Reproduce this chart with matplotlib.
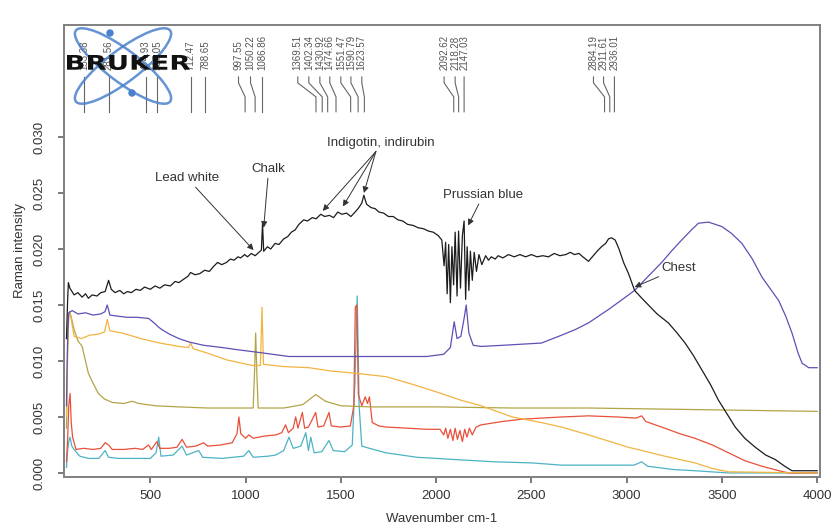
import numpy as np
import matplotlib
matplotlib.use("Agg")
import matplotlib.pyplot as plt
import matplotlib.transforms as mtransforms
from matplotlib.patches import Ellipse, Circle, PathPatch
from matplotlib.textpath import TextPath
from matplotlib.font_manager import FontProperties

plt.rcParams['font.family'] = ['Liberation Sans', 'DejaVu Sans']

# spectra: (wavenumber cm-1, Raman intensity)
black = [(60, 0.0120), (66, 0.0154), (70, 0.0170), (78, 0.0165), (100, 0.0159), (120, 0.0161),
         (142, 0.0157), (160, 0.0160), (175, 0.0156), (195, 0.0159), (220, 0.0158), (240, 0.0161),
         (263, 0.0162), (281, 0.0172), (295, 0.0164), (315, 0.0161), (340, 0.0163), (360, 0.0160),
         (380, 0.0162), (400, 0.0161), (425, 0.0164), (447, 0.0163), (470, 0.0166), (500, 0.0164),
         (525, 0.0167), (550, 0.0165), (575, 0.0168), (605, 0.0167), (630, 0.0171), (650, 0.0170),
         (675, 0.0173), (700, 0.0176), (711, 0.0179), (735, 0.0177), (760, 0.0178), (785, 0.0181),
         (810, 0.0180), (830, 0.0184), (853, 0.0188), (875, 0.0186), (900, 0.0188), (920, 0.0191),
         (940, 0.0190), (960, 0.0193), (974, 0.0192), (995, 0.0195), (1010, 0.0193), (1030, 0.0196),
         (1050, 0.0194), (1070, 0.0197), (1083, 0.0199), (1089, 0.0223), (1095, 0.0198), (1115, 0.0202),
         (1132, 0.0200), (1155, 0.0205), (1175, 0.0204), (1200, 0.0209), (1221, 0.0211), (1240, 0.0215),
         (1260, 0.0217), (1280, 0.0222), (1305, 0.0226), (1325, 0.0225), (1350, 0.0228), (1370, 0.0227),
         (1395, 0.0231), (1415, 0.0229), (1440, 0.0230), (1462, 0.0228), (1484, 0.0233), (1505, 0.0231),
         (1530, 0.0232), (1553, 0.0229), (1575, 0.0233), (1595, 0.0237), (1610, 0.0241), (1621, 0.0248),
         (1635, 0.0240), (1658, 0.0237), (1680, 0.0236), (1700, 0.0233), (1725, 0.0232), (1750, 0.0229),
         (1775, 0.0229), (1800, 0.0226), (1825, 0.0225), (1850, 0.0222), (1880, 0.0221), (1905, 0.0219),
         (1935, 0.0218), (1960, 0.0216), (1985, 0.0215), (2011, 0.0212), (2030, 0.0208), (2042, 0.0185),
         (2050, 0.0206), (2058, 0.0160), (2066, 0.0204), (2075, 0.0152), (2083, 0.0202), (2092, 0.0168),
         (2100, 0.0215), (2110, 0.0158), (2118, 0.0216), (2128, 0.0165), (2138, 0.0212), (2147, 0.0225),
         (2155, 0.0155), (2163, 0.0202), (2172, 0.0163), (2180, 0.0198), (2190, 0.0172), (2200, 0.0197),
         (2212, 0.0180), (2225, 0.0195), (2240, 0.0186), (2260, 0.0194), (2275, 0.0190), (2290, 0.0193),
         (2310, 0.0191), (2326, 0.0194), (2350, 0.0192), (2380, 0.0195), (2410, 0.0193), (2440, 0.0195),
         (2470, 0.0193), (2500, 0.0195), (2530, 0.0193), (2560, 0.0194), (2590, 0.0193), (2620, 0.0196),
         (2650, 0.0194), (2680, 0.0195), (2705, 0.0197), (2726, 0.0195), (2750, 0.0196), (2770, 0.0193),
         (2800, 0.0189), (2820, 0.0193), (2845, 0.0198), (2868, 0.0202), (2890, 0.0205), (2905, 0.0209),
         (2921, 0.0210), (2940, 0.0208), (2960, 0.0200), (2984, 0.0188), (3010, 0.0178), (3042, 0.0163),
         (3080, 0.0156), (3114, 0.0150), (3160, 0.0142), (3219, 0.0134), (3260, 0.0126), (3307, 0.0116),
         (3350, 0.0105), (3395, 0.0092), (3440, 0.0079), (3482, 0.0065), (3530, 0.0052), (3570, 0.0041),
         (3620, 0.0031), (3675, 0.0023), (3730, 0.0016), (3780, 0.0012), (3830, 0.0006), (3868, 0.0002),
         (3920, 0.0002), (4000, 0.0002)]

purple = [(60, 0.0060), (66, 0.0120), (72, 0.0143), (90, 0.0145), (120, 0.0142), (160, 0.0143),
          (200, 0.0141), (240, 0.0142), (262, 0.0144), (274, 0.0150), (288, 0.0141), (330, 0.0140),
          (380, 0.0139), (430, 0.0139), (491, 0.0138), (520, 0.0134), (545, 0.0130), (561, 0.0128),
          (600, 0.0124), (650, 0.0120), (702, 0.0117), (780, 0.0114), (877, 0.0112), (960, 0.0110),
          (1053, 0.0108), (1140, 0.0106), (1228, 0.0104), (1350, 0.0104), (1500, 0.0104), (1650, 0.0104),
          (1800, 0.0104), (1950, 0.0104), (2040, 0.0106), (2075, 0.0112), (2095, 0.0135), (2110, 0.0120),
          (2130, 0.0122), (2147, 0.0138), (2158, 0.0150), (2172, 0.0125), (2195, 0.0114), (2237, 0.0113),
          (2350, 0.0114), (2450, 0.0115), (2553, 0.0116), (2658, 0.0123), (2730, 0.0128), (2800, 0.0134),
          (2905, 0.0146), (2970, 0.0154), (3042, 0.0163), (3110, 0.0175), (3184, 0.0188), (3240, 0.0199),
          (3289, 0.0208), (3340, 0.0217), (3377, 0.0223), (3430, 0.0224), (3500, 0.0220), (3550, 0.0214),
          (3605, 0.0205), (3660, 0.0191), (3710, 0.0175), (3760, 0.0163), (3798, 0.0154), (3835, 0.0140),
          (3868, 0.0125), (3900, 0.0107), (3921, 0.0098), (3956, 0.0094), (4000, 0.0094)]

orange = [(60, 0.0050), (66, 0.0110), (72, 0.0140), (80, 0.0142), (100, 0.0122), (140, 0.0120),
          (180, 0.0123), (230, 0.0124), (260, 0.0126), (274, 0.0137), (288, 0.0127), (352, 0.0125),
          (450, 0.0120), (550, 0.0116), (650, 0.0113), (700, 0.0112), (712, 0.0116), (725, 0.0111),
          (800, 0.0107), (900, 0.0101), (1035, 0.0096), (1078, 0.0096), (1086, 0.0148), (1094, 0.0097),
          (1200, 0.0095), (1333, 0.0094), (1450, 0.0091), (1580, 0.0089), (1737, 0.0086), (1880, 0.0079),
          (2026, 0.0071), (2130, 0.0065), (2237, 0.0060), (2400, 0.0050), (2553, 0.0045), (2658, 0.0041),
          (2800, 0.0034), (3009, 0.0023), (3200, 0.0015), (3358, 0.0009), (3450, 0.0004), (3535, 0.0001),
          (4000, 0.0000)]

olive = [(60, 0.0040), (66, 0.0110), (70, 0.0140), (76, 0.0144), (84, 0.0140), (100, 0.0128),
         (120, 0.0118), (142, 0.0113), (175, 0.0089), (200, 0.0080), (227, 0.0071), (260, 0.0066),
         (300, 0.0063), (360, 0.0062), (405, 0.0064), (440, 0.0062), (526, 0.0060), (650, 0.0059),
         (800, 0.0058), (950, 0.0058), (1040, 0.0058), (1047, 0.0090), (1053, 0.0125), (1059, 0.0090),
         (1066, 0.0058), (1200, 0.0058), (1300, 0.0061), (1368, 0.0070), (1420, 0.0064), (1500, 0.0060),
         (1650, 0.0059), (1737, 0.0059), (2000, 0.0059), (2400, 0.0058), (2800, 0.0058), (3200, 0.0057),
         (3600, 0.0056), (4000, 0.0055)]

red = [(60, 0.0010), (66, 0.0030), (72, 0.0060), (79, 0.0071), (85, 0.0045), (92, 0.0032), (110, 0.0021),
       (150, 0.0022), (200, 0.0021), (240, 0.0022), (263, 0.0027), (281, 0.0025), (300, 0.0021),
       (360, 0.0021), (420, 0.0022), (460, 0.0021), (491, 0.0025), (505, 0.0021), (535, 0.0028),
       (550, 0.0022), (600, 0.0022), (640, 0.0023), (667, 0.0030), (690, 0.0023), (740, 0.0024),
       (780, 0.0027), (800, 0.0024), (870, 0.0025), (930, 0.0027), (955, 0.0035), (965, 0.0050),
       (975, 0.0035), (1000, 0.0031), (1017, 0.0034), (1040, 0.0031), (1100, 0.0033), (1160, 0.0034),
       (1190, 0.0036), (1210, 0.0043), (1225, 0.0036), (1250, 0.0040), (1263, 0.0050), (1275, 0.0040),
       (1298, 0.0054), (1310, 0.0040), (1330, 0.0041), (1368, 0.0054), (1380, 0.0041), (1410, 0.0042),
       (1438, 0.0054), (1450, 0.0042), (1500, 0.0041), (1550, 0.0042), (1568, 0.0060), (1576, 0.0148),
       (1584, 0.0150), (1592, 0.0070), (1610, 0.0060), (1628, 0.0068), (1640, 0.0062), (1650, 0.0068),
       (1665, 0.0045), (1700, 0.0042), (1737, 0.0041), (1850, 0.0040), (1950, 0.0039), (2020, 0.0039),
       (2040, 0.0034), (2050, 0.0040), (2062, 0.0031), (2075, 0.0039), (2088, 0.0029), (2100, 0.0040),
       (2112, 0.0030), (2125, 0.0038), (2138, 0.0028), (2150, 0.0039), (2162, 0.0032), (2175, 0.0040),
       (2190, 0.0034), (2210, 0.0041), (2237, 0.0043), (2350, 0.0046), (2450, 0.0048), (2553, 0.0049),
       (2658, 0.0050), (2800, 0.0051), (2950, 0.0050), (3050, 0.0049), (3079, 0.0051), (3100, 0.0046),
       (3200, 0.0040), (3280, 0.0035), (3358, 0.0031), (3450, 0.0025), (3535, 0.0018), (3620, 0.0011),
       (3710, 0.0006), (3800, 0.0002), (3850, 0.0000), (4000, 0.0000)]

teal = [(60, 0.0005), (66, 0.0020), (72, 0.0028), (79, 0.0032), (88, 0.0024), (100, 0.0021),
        (130, 0.0015), (175, 0.0013), (230, 0.0013), (263, 0.0020), (281, 0.0014), (330, 0.0013),
        (420, 0.0013), (500, 0.0013), (530, 0.0018), (544, 0.0032), (556, 0.0015), (620, 0.0016),
        (667, 0.0024), (690, 0.0016), (754, 0.0020), (775, 0.0014), (877, 0.0013), (990, 0.0015),
        (1017, 0.0020), (1040, 0.0014), (1120, 0.0015), (1158, 0.0016), (1200, 0.0020), (1228, 0.0032),
        (1250, 0.0022), (1290, 0.0024), (1316, 0.0036), (1330, 0.0020), (1342, 0.0032), (1360, 0.0018),
        (1400, 0.0019), (1438, 0.0029), (1460, 0.0020), (1520, 0.0019), (1560, 0.0025), (1574, 0.0080),
        (1586, 0.0158), (1596, 0.0060), (1610, 0.0024), (1650, 0.0022), (1737, 0.0018), (1900, 0.0014),
        (2100, 0.0012), (2300, 0.0010), (2500, 0.0009), (2658, 0.0007), (2900, 0.0007), (3040, 0.0007),
        (3079, 0.0010), (3110, 0.0006), (3250, 0.0003), (3358, 0.0002), (3535, 0.0000), (4000, 0.0000)]

# peak labels along the top
peak_wn = [153.38, 281.56, 474.93, 537.05, 712.47, 788.65, 997.55, 1050.22, 1086.86,
           1369.51, 1402.34, 1430.92, 1474.66, 1551.47, 1590.79, 1623.57,
           2092.62, 2118.28, 2147.03, 2884.19, 2911.61, 2936.01]
label_wn = [153.38, 281.56, 474.93, 537.05, 712.47, 788.65, 963, 1026, 1086.86,
            1274, 1332, 1390, 1442, 1500, 1553, 1610,
            2042, 2100, 2147, 2826, 2879, 2936]

series = [(teal, "#4db3c4"), (red, "#e8503a"), (olive, "#b2a546"),
          (orange, "#f2b441"), (purple, "#5e50b5"), (black, "#1c1c1c")]

fig = plt.figure(figsize=(8.39, 5.27), dpi=100)
ax = fig.add_axes([64 / 839, 50 / 527, 756 / 839, 452 / 527])

for data, col in series:
    wn, inten = np.array(data).T
    ax.plot(wn, inten, color=col, lw=0.9)

ax.set_xlim(47, 4015)
ax.set_ylim(-0.00036, 0.0400)
ax.set_xticks(np.arange(500, 4001, 500))
ax.set_yticks(np.arange(0, 0.0301, 0.005))
ax.set_yticklabels([f"{v:.3f}" for v in np.arange(0, 0.0301, 0.005)],
                   rotation=90, va="center", ha="right")
ax.tick_params(axis="both", colors="#555555", labelcolor="#333333", length=4.5, width=1.1,
               labelsize=9.5)
ax.tick_params(axis="y", pad=9)
ax.tick_params(axis="x", pad=5)
for sp in ax.spines.values():
    sp.set_color("#808080")
    sp.set_linewidth(1.4)
ax.set_xlabel("Wavenumber cm-1", fontsize=9.5, color="#333333", labelpad=8)
ax.set_ylabel("Raman intensity", fontsize=9.5, color="#333333", labelpad=5)

# peak position labels with connectors
trans = mtransforms.blended_transform_factory(ax.transData, ax.transAxes)
for pk, lx in zip(peak_wn, label_wn):
    ax.text(lx, 0.900, f"{pk:.2f}", rotation=90, ha="center", va="bottom",
            fontsize=7, color="#555555", transform=trans)
    ax.plot([lx, lx, pk, pk], [0.885, 0.872, 0.841, 0.808], color="#666666",
            lw=0.8, transform=trans)

# annotations
arr = dict(arrowstyle="-|>", color="#333333", lw=0.7, mutation_scale=9, shrinkA=0, shrinkB=0)
txt = dict(fontsize=9.5, color="#333333", ha="center", va="center")
ax.annotate("Lead white", xy=(1042, 0.0199), xytext=(695, 0.0263), arrowprops=arr, **txt)
ax.annotate("Chalk", xy=(1095, 0.0219), xytext=(1121, 0.0271), arrowprops=arr, **txt)
ax.text(1711, 0.0295, "Indigotin, indirubin", **txt)
for tip in [(1405, 0.0234), (1511, 0.0238), (1621, 0.0250)]:
    ax.annotate("", xy=tip, xytext=(1684, 0.0287), arrowprops=arr)
ax.annotate("Prussian blue", xy=(2168, 0.0221), xytext=(2247, 0.0248), arrowprops=arr, **txt)
ax.annotate("Chest", xy=(3042, 0.0166), xytext=(3274, 0.0183), arrowprops=arr, **txt)

# Bruker logo (pixel coordinates)
for ang in (37, -37):
    fig.add_artist(Ellipse((123, 527 - 66), 118, 32, angle=ang, fill=False,
                           edgecolor="#4a80cc", lw=1.8, alpha=0.85,
                           transform=mtransforms.IdentityTransform()))
for cx, cy in [(110, 33), (132, 93)]:
    fig.add_artist(Circle((cx, 527 - cy), 3, color="#4a80cc",
                          transform=mtransforms.IdentityTransform()))
tp = TextPath((0, 0), "BRUKER", size=20, prop=FontProperties(family="DejaVu Sans", weight="bold"))
bb = tp.get_extents()
tr = (mtransforms.Affine2D().translate(-bb.x0, -bb.y0)
      .scale(123 / bb.width, 15 / bb.height).translate(67, 527 - 70))
fig.add_artist(PathPatch(tp, transform=tr, color="#111111", lw=0))

fig.savefig("out.png", dpi=100)
